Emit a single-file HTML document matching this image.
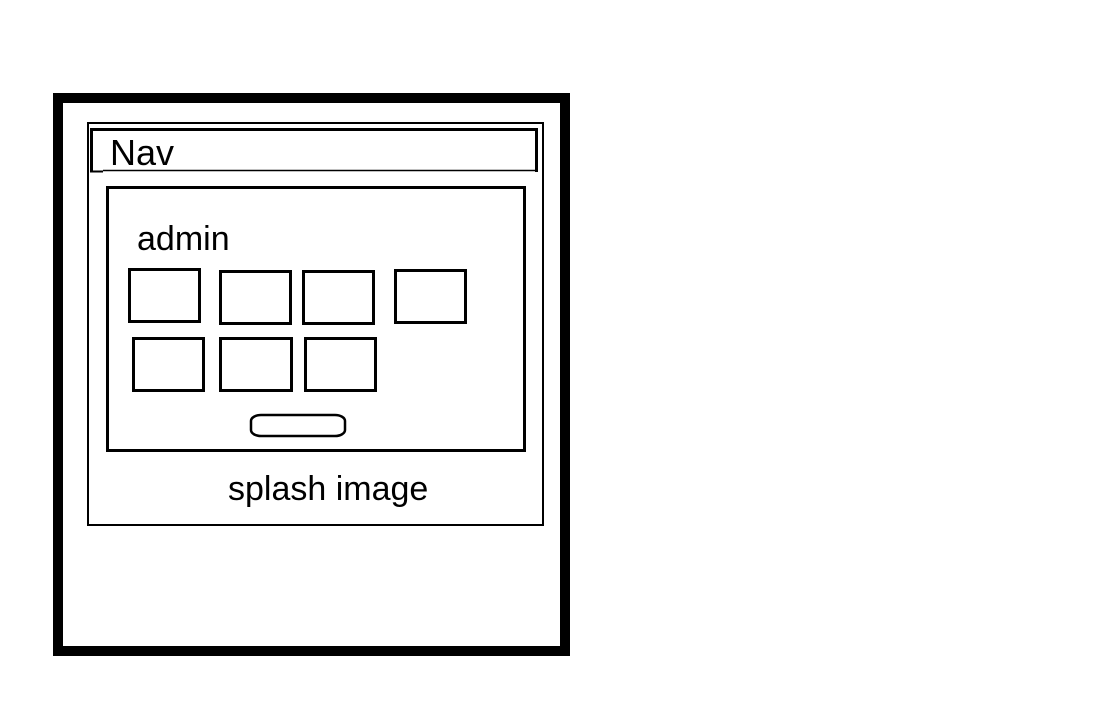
<!DOCTYPE html>
<html><head><meta charset="utf-8"><style>
html,body{margin:0;padding:0;background:#fff;width:1116px;height:712px;overflow:hidden}
svg{display:block}
text{font-family:"Liberation Sans",sans-serif;fill:#000}
</style></head><body>
<svg width="1116" height="712" viewBox="0 0 1116 712">
  <rect x="58" y="98" width="507" height="553" fill="none" stroke="#000" stroke-width="10"/>
  <rect x="88" y="123" width="455" height="402" fill="none" stroke="#000" stroke-width="2"/>
  <g>
    <path d="M91.5 172 V129.5 H536.5 V172" fill="none" stroke="#000" stroke-width="3"/>
    <line x1="103" y1="170.5" x2="536" y2="170.5" stroke="#000" stroke-width="1.5"/>
    <line x1="90" y1="171.5" x2="103" y2="171.5" stroke="#000" stroke-width="2"/>
    <text x="110" y="165" font-size="36">Nav</text>
  </g>
  <rect x="107.5" y="187.5" width="417" height="263" fill="none" stroke="#000" stroke-width="3"/>
  <text x="137" y="250" font-size="34">admin</text>
  <g fill="none" stroke="#000" stroke-width="3">
    <rect x="129.5" y="269.5" width="70" height="52"/>
    <rect x="220.5" y="271.5" width="70" height="52"/>
    <rect x="303.5" y="271.5" width="70" height="52"/>
    <rect x="395.5" y="270.5" width="70" height="52"/>
    <rect x="133.5" y="338.5" width="70" height="52"/>
    <rect x="220.5" y="338.5" width="71" height="52"/>
    <rect x="305.5" y="338.5" width="70" height="52"/>
    <rect x="251" y="415" width="94" height="21" rx="10" ry="6" stroke-width="2.5"/>
  </g>
  <text x="228" y="500" font-size="34">splash image</text>
</svg>
</body></html>
